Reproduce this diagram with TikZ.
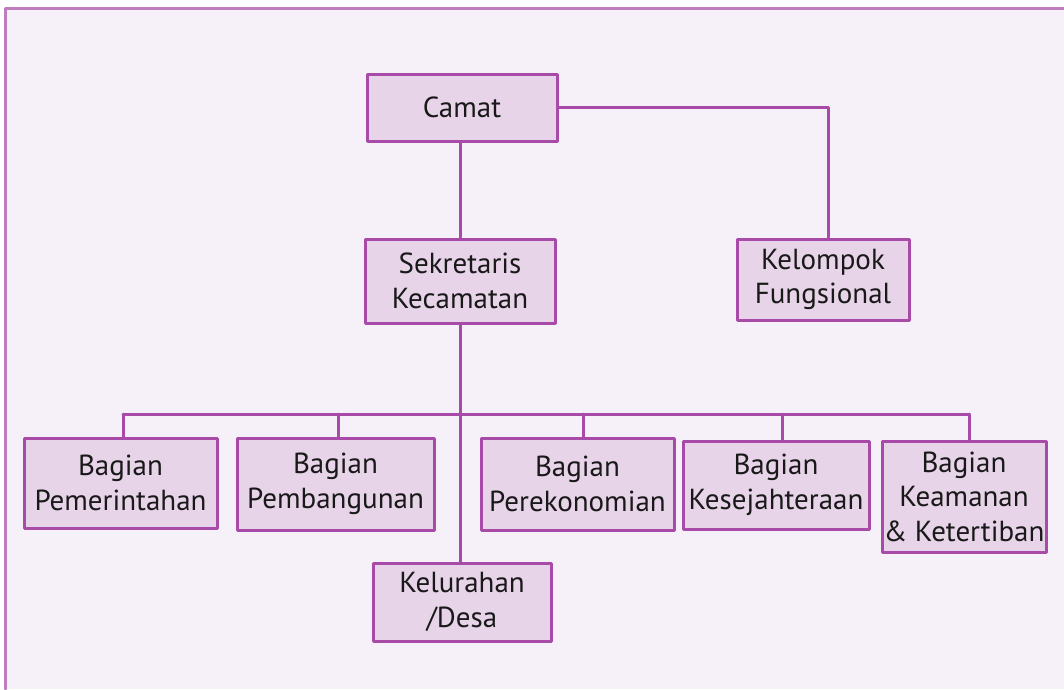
\documentclass[tikz,border=0pt]{standalone}
\usepackage{fontspec}
\setmainfont{PT Sans}
\usepackage{tikz}
\definecolor{boxline}{rgb}{0.66,0.29,0.66}
\definecolor{boxfill}{rgb}{0.91,0.83,0.91}
\definecolor{pagebg}{rgb}{0.965,0.945,0.972}
\definecolor{pageline}{rgb}{0.75,0.49,0.75}
\begin{document}
\begin{tikzpicture}[line cap=round,line join=round,x=1pt,y=-1pt,
		unit/.style={draw=boxline,fill=boxfill,line width=3pt,inner sep=0pt,align=center,
			font=\fontsize{29}{34.5}\selectfont,text=black!90},
		link/.style={draw=boxline,line width=3pt}]
			\useasboundingbox (0,0) rectangle (1064,689);
			\fill [color=pagebg] (5,8) rectangle (1064,689);
			\draw [color=pageline,line width=3pt] (5,689) -- (5,8) -- (1064,8);
			
			\node [unit,minimum width=190pt,minimum height=67pt] (camat) at (462,107.5) {Camat};
			\node [unit,minimum width=190pt,minimum height=84pt] (sek) at (460,281) {Sekretaris\\Kecamatan};
			\node [unit,minimum width=172pt,minimum height=81pt] (kf) at (823,279.5) {Kelompok\\Fungsional};
			
			\node [unit,minimum width=193pt,minimum height=90pt] (pem) at (120.5,483) {Bagian\\Pemerintahan};
			\node [unit,minimum width=197pt,minimum height=92pt] (pmb) at (335.5,484) {Bagian\\Pembangunan};
			\node [unit,minimum width=193pt,minimum height=92pt] (per) at (577.5,484) {Bagian\\Perekonomian};
			\node [unit,minimum width=186pt,minimum height=88pt] (kes) at (776,485) {Bagian\\Kesejahteraan};
			\node [unit,minimum width=164pt,minimum height=111pt] (kea) at (964,496.5) {Bagian\\Keamanan\\\& Ketertiban};
			\node [unit,minimum width=178pt,minimum height=78pt] (kel) at (462,602) {Kelurahan\\/Desa};
			
			\coordinate (bus) at (460,414);
			
			\draw [link] (camat.south -| sek) -- (sek.north);
			\draw [link] (camat.east) -| ([xshift=5pt]kf.north);
			\draw [link] (sek.south) -- (sek.south |- kel.north);
			\draw [link] ([xshift=2.5pt]pem.north |- bus) -- ([xshift=5pt]kea.north |- bus);
			\foreach \n/\d in {pem/2.5,pmb/2.5,per/5.5,kes/6,kea/5}
				\draw [link] ([xshift=\d pt]\n.north |- bus) -- ([xshift=\d pt]\n.north);
		\end{tikzpicture}
\end{document}
